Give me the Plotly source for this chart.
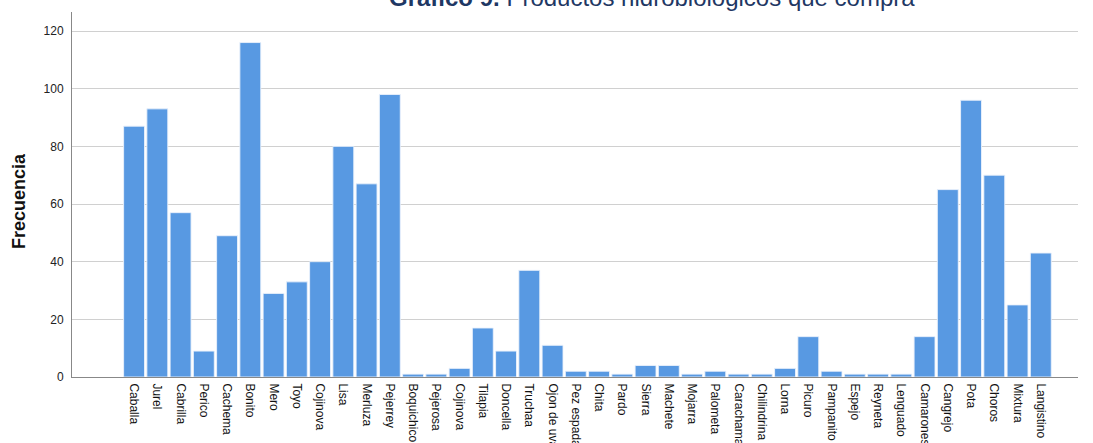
import plotly.graph_objects as go

categories = ["Caballa", "Jurel", "Cabrilla", "Perico", "Cachema", "Bonito", "Mero", "Toyo",
              "Cojinova", "Lisa", "Merluza", "Pejerrey", "Boquichico", "Pejerosa", "Cojinova ",
              "Tilapia", "Doncella", "Truchaa", "Ojon de uva", "Pez espada", "Chita", "Pardo",
              "Sierra", "Machete", "Mojarra", "Palometa", "Carachama", "Chilindrina", "Lorna",
              "Picuro", "Pampanito", "Espejo", "Reyneta", "Lenguado", "Camarones", "Cangrejo",
              "Pota", "Choros", "Mixtura", "Langistino"]
frecuencia = [87, 93, 57, 9, 49, 116, 29, 33, 40, 80, 67, 98, 1, 1, 3, 17, 9, 37, 11, 2, 2, 1,
              4, 4, 1, 2, 1, 1, 3, 14, 2, 1, 1, 1, 14, 65, 96, 70, 25, 43]
y_ticks = [0, 20, 40, 60, 80, 100, 120]

fig = go.Figure(go.Bar(
    x=list(range(len(categories))), y=frecuencia,
    marker=dict(color="#5899e2", line=dict(color="rgba(235,242,252,0.9)", width=1)),
))

fig.update_layout(
    width=1093, height=443,
    margin=dict(l=72, r=15, t=12, b=66),
    plot_bgcolor="white", paper_bgcolor="white",
    bargap=0.1,
    showlegend=False,
    font=dict(family="Liberation Sans, Arial", color="#222"),
    xaxis=dict(
        tickmode="array", tickvals=list(range(len(categories))), ticktext=categories,
        tickangle=90, tickfont=dict(size=12, color="#111"), ticklabelstandoff=3,
        range=[-2.67, 40.6], showgrid=False, showline=True, linecolor="#888",
        linewidth=1, ticks="", automargin=False,
    ),
    yaxis=dict(
        range=[0, 126.6], tickvals=y_ticks, tickfont=dict(size=12, color="#222"),
        ticklabelstandoff=5,
        showgrid=True, gridcolor="#d0d0d0", gridwidth=1, showline=True, linecolor="#888",
        linewidth=1, ticks="", zeroline=False, automargin=False,
    ),
)

fig.add_annotation(
    x=0, y=0.5, xref="paper", yref="paper", xanchor="center", yanchor="middle",
    xshift=-53.5, yshift=-7, textangle=-90,
    text="<b>Frecuencia</b>", showarrow=False,
    font=dict(size=18, color="#111", family="Liberation Sans, Arial"),
)

fig.add_annotation(
    x=0.577, y=1.0, xref="paper", yref="paper", xanchor="center", yanchor="bottom",
    yshift=-1,
    text="<b>Gráfico 9.</b> Productos hidrobiológicos que compra",
    showarrow=False, font=dict(size=24, color="#1f3864", family="Liberation Sans, Arial"),
)

fig.write_html("out.html")
